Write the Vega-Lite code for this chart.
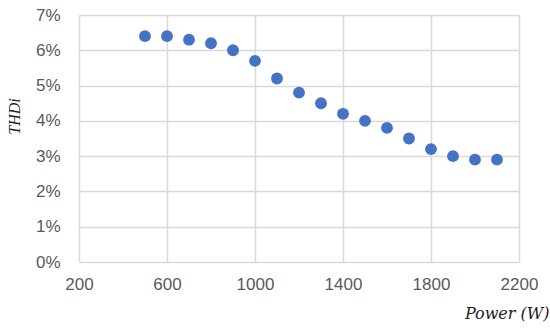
{
  "$schema": "https://vega.github.io/schema/vega-lite/v6.json",
  "width": 440,
  "height": 247,
  "autosize": "none",
  "padding": {"left": 79, "top": 15, "right": 31, "bottom": 66},
  "background": "white",
  "config": {"view": {"stroke": null}},
  "data": {"values": [
    {"power": 500, "thdi": 0.064},
    {"power": 600, "thdi": 0.064},
    {"power": 700, "thdi": 0.063},
    {"power": 800, "thdi": 0.062},
    {"power": 900, "thdi": 0.060},
    {"power": 1000, "thdi": 0.057},
    {"power": 1100, "thdi": 0.052},
    {"power": 1200, "thdi": 0.048},
    {"power": 1300, "thdi": 0.045},
    {"power": 1400, "thdi": 0.042},
    {"power": 1500, "thdi": 0.040},
    {"power": 1600, "thdi": 0.038},
    {"power": 1700, "thdi": 0.035},
    {"power": 1800, "thdi": 0.032},
    {"power": 1900, "thdi": 0.030},
    {"power": 2000, "thdi": 0.029},
    {"power": 2100, "thdi": 0.029}
  ]},
  "mark": {"type": "point", "filled": true, "opacity": 1, "size": 140, "color": "#4472C4"},
  "encoding": {
    "x": {
      "field": "power", "type": "quantitative",
      "scale": {"domain": [200, 2200], "nice": false, "zero": false},
      "axis": {
        "values": [200, 600, 1000, 1400, 1800, 2200],
        "format": "d",
        "grid": true, "gridColor": "#d9d9d9", "gridWidth": 1.5,
        "domain": false, "ticks": false,
        "labelFont": "Liberation Sans", "labelFontSize": 17, "labelColor": "#595959",
        "labelPadding": 14, "labelFlush": false,
        "title": "Power (W)", "titleFont": "DejaVu Serif", "titleFontStyle": "italic",
        "titleFontWeight": "normal", "titleFontSize": 16, "titleColor": "#222222",
        "titleAlign": "right", "titleAnchor": "end", "titleX": 470, "titleY": 51, "titleBaseline": "middle"
      }
    },
    "y": {
      "field": "thdi", "type": "quantitative",
      "scale": {"domain": [0, 0.07], "nice": false},
      "axis": {
        "values": [0, 0.01, 0.02, 0.03, 0.04, 0.05, 0.06, 0.07],
        "format": ".0%",
        "grid": true, "gridColor": "#d9d9d9", "gridWidth": 1.5,
        "domain": false, "ticks": false,
        "labelFont": "Liberation Sans", "labelFontSize": 17, "labelColor": "#595959",
        "labelPadding": 19,
        "title": "THDi", "titleFont": "Liberation Serif", "titleFontStyle": "italic",
        "titleFontWeight": "normal", "titleFontSize": 16, "titleColor": "#222222",
        "titleX": -65, "titleY": 101, "titleBaseline": "middle", "titleAlign": "center", "titleAngle": -90
      }
    }
  }
}
